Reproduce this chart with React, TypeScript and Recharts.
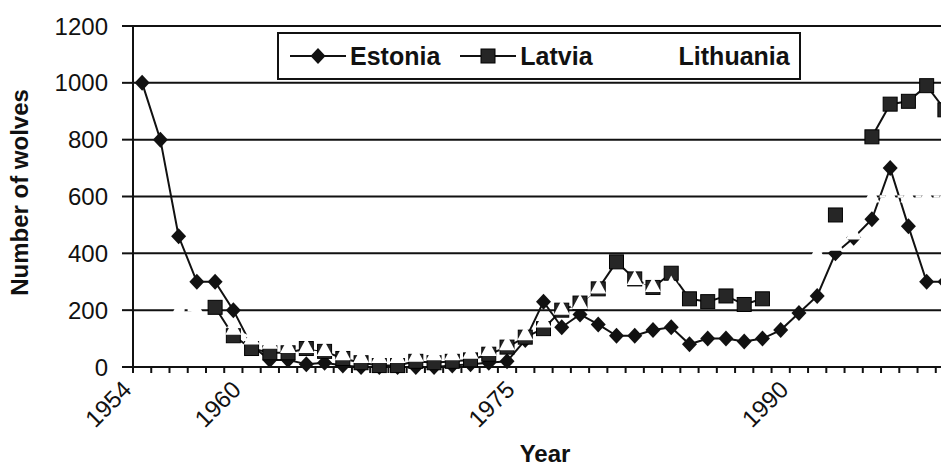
import { LineChart, Line, XAxis, YAxis, CartesianGrid, Legend } from "recharts";

// ─── Data ──────────────────────────────────────────────────────────

const years = [
  1954, 1955, 1956, 1957, 1958, 1959, 1960, 1961, 1962, 1963, 1964, 1965,
  1966, 1967, 1968, 1969, 1970, 1971, 1972, 1973, 1974, 1975, 1976, 1977,
  1978, 1979, 1980, 1981, 1982, 1983, 1984, 1985, 1986, 1987, 1988, 1989,
  1990, 1991, 1992, 1993, 1994, 1995, 1996, 1997, 1998,
];

const estonia = [
  1000, 800, 460, 300, 300, 200, 75, 25, 25, 10, 15, 5,
  0, 0, 0, 0, 0, 5, 10, 15, 20, 95, 230, 140,
  185, 150, 110, 110, 130, 140, 80, 100, 100, 90, 100, 130,
  190, 250, 400, 455, 520, 700, 495, 300, 300,
];

const latvia = [
  null, null, null, null, 210, 110, 65, 50, 50, 65, 55, 30,
  15, 5, 5, 20, 15, 20, 25, 45, 70, 105, 135, 200,
  225, 275, 370, 310, 280, 330, 240, 230, 250, 220, 240, null,
  null, null, 535, null, 810, 925, 935, 990, 905,
];

// drawn in white in the scan – only visible where it cuts other marks
const lithuania = [
  null, null, 200, 200, 150, 135, 100, 85, 70, 70, 60, 45,
  35, 35, 35, 40, 45, 45, 50, 60, 80, 115, 160, 205,
  225, 280, 300, 310, 285, 290, 310, 320, 330, 340, 345, 350,
  360, 400, 430, 470, 600, 600, 600, 600, 600,
];

const yTicks = [0, 200, 400, 600, 800, 1000, 1200];
const labelYears = [1954, 1960, 1975, 1990];

const data = years.map((year, i) => ({
  year,
  estonia: estonia[i],
  latvia: latvia[i],
  lithuania: lithuania[i],
}));

// tick marks sit between the years, like the original category axis
const boundaryTicks = [...years.map((y) => y - 0.5), years[years.length - 1] + 0.5];

const FONT = '"Liberation Sans", Arial, sans-serif';
const INK = "#111";

// ─── Markers ───────────────────────────────────────────────────────

function Diamond(props: any) {
  const { cx, cy, index, value } = props;
  if (cx == null || cy == null || value == null) return <g key={index} />;
  return (
    <path
      key={index}
      d={`M${cx},${cy - 8}L${cx + 7.5},${cy}L${cx},${cy + 8}L${cx - 7.5},${cy}Z`}
      fill={INK}
    />
  );
}

function Square(props: any) {
  const { cx, cy, index, value } = props;
  if (cx == null || cy == null || value == null) return <g key={index} />;
  return (
    <rect key={index} x={cx - 7} y={cy - 7} width={14} height={14} fill="#262626" stroke="#000" strokeWidth={1} />
  );
}

function Triangle(props: any) {
  const { cx, cy, index, value } = props;
  if (cx == null || cy == null || value == null) return <g key={index} />;
  return (
    <path key={index} d={`M${cx},${cy - 9}L${cx + 8},${cy + 6}L${cx - 8},${cy + 6}Z`} fill="#fff" />
  );
}

// ─── Axis pieces ───────────────────────────────────────────────────

function YearTick({ x, y, payload }: any) {
  const year = payload.value + 0.5;
  if (!labelYears.includes(year)) return <g />;
  const ay = y + 16;
  return (
    <text
      x={x}
      y={ay}
      textAnchor="end"
      transform={`rotate(-45 ${x} ${ay})`}
      fontSize={24}
      fill={INK}
    >
      {year}
    </text>
  );
}

function YTitle(props: any) {
  const vb = props.viewBox || { x: 0, y: 26, width: 133, height: 341 };
  const cx = vb.x + 19;
  const cy = vb.y + vb.height / 2 - 4;
  return (
    <text
      x={cx}
      y={cy}
      textAnchor="middle"
      dominantBaseline="central"
      transform={`rotate(-90 ${cx} ${cy})`}
      fontSize={24}
      fontWeight={700}
      fill={INK}
    >
      Number of wolves
    </text>
  );
}

function XTitle() {
  return (
    <text x={545} y={462} textAnchor="middle" fontSize={24} fontWeight={700} fill={INK}>
      Year
    </text>
  );
}

// ─── Legend ────────────────────────────────────────────────────────

function LegendSymbol({ kind }: { kind: string }) {
  const color = kind === "lithuania" ? "#fff" : INK;
  return (
    <svg width={56} height={20} style={{ display: "block" }}>
      <line x1={0} y1={10} x2={56} y2={10} stroke={color} strokeWidth={2} />
      {kind === "estonia" && <path d="M28,2L35.5,10L28,18L20.5,10Z" fill={INK} />}
      {kind === "latvia" && <rect x={21} y={3} width={14} height={14} fill="#262626" stroke="#000" />}
      {kind === "lithuania" && <path d="M28,1L36,16L20,16Z" fill="#fff" />}
    </svg>
  );
}

const legendItems = [
  { key: "estonia", label: "Estonia", gap: 0 },
  { key: "latvia", label: "Latvia", gap: 20 },
  { key: "lithuania", label: "Lithuania", gap: 26 },
];

function LegendBox() {
  return (
    <div
      style={{
        boxSizing: "border-box",
        width: 524,
        height: 48,
        border: `2px solid ${INK}`,
        background: "#fff",
        display: "flex",
        alignItems: "center",
        paddingLeft: 11,
        fontFamily: FONT,
        fontWeight: 700,
        fontSize: 25,
        color: INK,
      }}
    >
      {legendItems.map((it) => (
        <div key={it.key} style={{ display: "flex", alignItems: "center", marginLeft: it.gap }}>
          <LegendSymbol kind={it.key} />
          <span style={{ marginLeft: 4 }}>{it.label}</span>
        </div>
      ))}
    </div>
  );
}

// ─── Component ─────────────────────────────────────────────────────

export default function App() {
  return (
    <div
      style={{
        margin: -8,
        width: 949,
        height: 473,
        overflow: "hidden",
        position: "relative",
        background: "#fff",
        fontFamily: FONT,
      }}
    >
      <LineChart width={1027} height={473} data={data} margin={{ top: 26, right: 0, bottom: 0, left: 0 }}>
        <CartesianGrid vertical={false} stroke={INK} strokeWidth={2} />
        <XAxis
          dataKey="year"
          type="number"
          domain={[1953.5, 2002.5]}
          ticks={boundaryTicks}
          interval={0}
          height={106}
          tickSize={6}
          axisLine={{ stroke: INK, strokeWidth: 2 }}
          tickLine={{ stroke: INK, strokeWidth: 2 }}
          tick={<YearTick />}
          label={() => <XTitle />}
        />
        <YAxis
          domain={[0, 1200]}
          ticks={yTicks}
          interval={0}
          width={133}
          tickSize={11}
          tickMargin={14}
          axisLine={{ stroke: INK, strokeWidth: 2 }}
          tickLine={{ stroke: INK, strokeWidth: 2 }}
          tick={{ fill: INK, fontSize: 24 }}
          label={(p: any) => <YTitle {...p} />}
        />
        <Legend
          layout="horizontal"
          verticalAlign="middle"
          align="center"
          wrapperStyle={{ left: 277, top: 32, width: 524, height: 48 }}
          content={() => <LegendBox />}
        />

        <Line
          type="linear"
          dataKey="estonia"
          name="Estonia"
          stroke={INK}
          strokeWidth={2}
          dot={Diamond}
          activeDot={false}
          isAnimationActive={false}
        />
        <Line
          type="linear"
          dataKey="latvia"
          name="Latvia"
          stroke={INK}
          strokeWidth={2}
          dot={Square}
          activeDot={false}
          isAnimationActive={false}
        />
        <Line
          type="linear"
          dataKey="lithuania"
          name="Lithuania"
          stroke="#fff"
          strokeWidth={2.5}
          strokeDasharray="6 3"
          dot={Triangle}
          activeDot={false}
          isAnimationActive={false}
        />
      </LineChart>
    </div>
  );
}
